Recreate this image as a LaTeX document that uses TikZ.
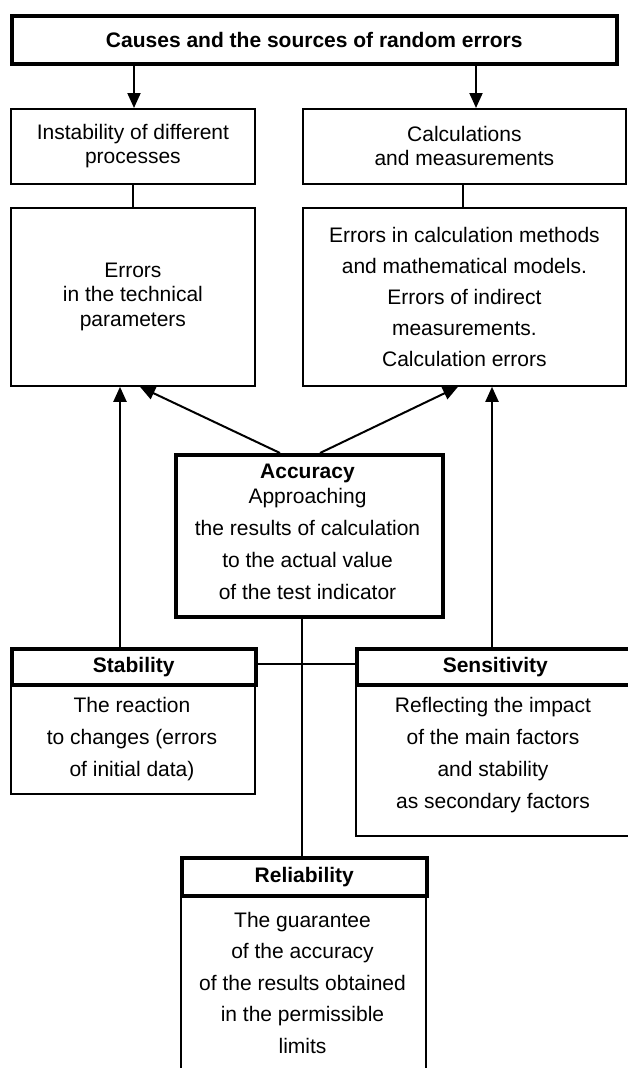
\documentclass[tikz,border=0pt]{standalone}
\usepackage{fontspec}
\setmainfont{Liberation Sans}
\usetikzlibrary{arrows.meta}
\tikzset{
  base/.style={draw=black, inner sep=0pt, align=center, font=\fontsize{21}{24}\selectfont},
  thinbox/.style={base, line width=1.8pt},
  thickbox/.style={base, line width=3.6pt},
  txt/.style={inner sep=0pt, align=center},
  conn/.style={line width=2pt},
  arr/.style={conn, -{Triangle[length=15pt,width=13pt]}}
}
\begin{document}
\begin{tikzpicture}[x=1pt,y=-1pt]
\useasboundingbox (0,0) rectangle (628,1068);
% top
\node[thickbox, anchor=north west, minimum width=605pt, minimum height=48pt] (title) at (10,14) {\textbf{Causes and the sources of random errors}};
\node[thinbox, anchor=north west, minimum width=244pt, minimum height=75pt] (inst) at (10,108) {Instability of different\\processes};
\node[thinbox, anchor=north west, minimum width=323pt, minimum height=75pt] (calc) at (302,108) {Calculations\\and measurements};
\node[thinbox, anchor=north west, minimum width=244pt, minimum height=178pt, font=\fontsize{21}{24.5}\selectfont] (err1) at (10,207) {Errors\\in the technical\\parameters};
\node[thinbox, anchor=north west, minimum width=323pt, minimum height=178pt, font=\fontsize{21}{31}\selectfont] (err2) at (302,207) {Errors in calculation methods\\and mathematical models.\\Errors of indirect\\measurements.\\Calculation errors};
% accuracy
\node[thickbox, anchor=north west, minimum width=267pt, minimum height=162pt] (acc) at (174,453) {};
\node[txt, font=\fontsize{21}{32}\selectfont] (acct) at (307.5,532) {\textbf{Accuracy}\\[-7pt]Approaching\\the results of calculation\\to the actual value\\of the test indicator};
% stability
\node[thinbox, anchor=north west, minimum width=244pt, minimum height=110pt] (stabb) at (10,683) {};
\node[thickbox, anchor=north west, minimum width=244pt, minimum height=36pt] (stabh) at (10,647) {\textbf{Stability}};
\node[txt, font=\fontsize{21}{32}\selectfont] (stabt) at (132,739.5) {The reaction\\to changes (errors\\of initial data)};
% sensitivity
\node[thinbox, anchor=north west, minimum width=277pt, minimum height=152pt] (sensb) at (355,683) {};
\node[thickbox, anchor=north west, minimum width=277pt, minimum height=36pt] (sensh) at (355,647) {\textbf{Sensitivity}};
\node[txt, font=\fontsize{21}{32}\selectfont] (senst) at (493,755.5) {Reflecting the impact\\of the main factors\\and stability\\as secondary factors};
% reliability
\node[thinbox, anchor=north west, minimum width=245pt, minimum height=190pt] (relb) at (180,894) {};
\node[thickbox, anchor=north west, minimum width=245pt, minimum height=38pt] (relh) at (180,856) {\textbf{Reliability}};
\node[txt, font=\fontsize{21}{31.5}\selectfont] (relt) at (302.5,982.5) {The guarantee\\of the accuracy\\of the results obtained\\in the permissible\\limits};
% connectors
\draw[arr] (134,0 |- title.south) -- (134,0 |- inst.north);
\draw[arr] (476,0 |- title.south) -- (476,0 |- calc.north);
\draw[conn] (133,0 |- inst.south) -- (133,0 |- err1.north);
\draw[conn] (463,0 |- calc.south) -- (463,0 |- err2.north);
\draw[arr] (280,0 |- acc.north) -- (140,0 |- err1.south);
\draw[arr] (320,0 |- acc.north) -- (458,0 |- err2.south);
\draw[arr] (120,0 |- stabh.north) -- (120,0 |- err1.south);
\draw[arr] (492,0 |- sensh.north) -- (492,0 |- err2.south);
\draw[conn] (302,0 |- acc.south) -- (302,0 |- relh.north);
\draw[conn] (stabh.east |- 0,664) -- (sensh.west |- 0,664);
\end{tikzpicture}
\end{document}
